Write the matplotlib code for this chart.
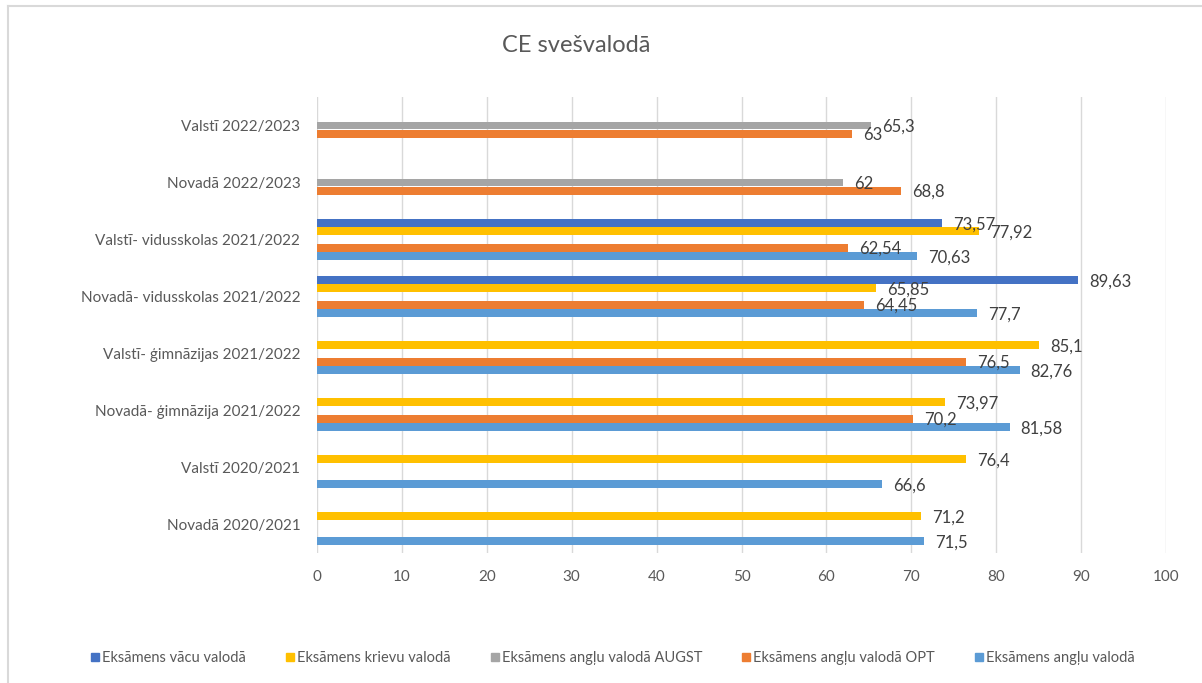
import numpy as np
import matplotlib
matplotlib.use("Agg")
import matplotlib.pyplot as plt
from matplotlib.lines import Line2D

plt.rcParams['font.family'] = ['Lato', 'DejaVu Sans']

categories = ["Novadā 2020/2021", "Valstī 2020/2021",
              "Novadā- ģimnāzija 2021/2022", "Valstī- ģimnāzijas 2021/2022",
              "Novadā- vidusskolas 2021/2022", "Valstī- vidusskolas 2021/2022",
              "Novadā 2022/2023", "Valstī 2022/2023"]

nan = np.nan
# series listed bottom-to-top inside each group
anglu = [71.5, 66.6, 81.58, 82.76, 77.7, 70.63, nan, nan]
anglu_opt = [nan, nan, 70.2, 76.5, 64.45, 62.54, 68.8, 63]
anglu_augst = [nan, nan, nan, nan, nan, nan, 62, 65.3]
krievu = [71.2, 76.4, 73.97, 85.1, 65.85, 77.92, nan, nan]
vacu = [nan, nan, nan, nan, 89.63, 73.57, nan, nan]

series = [
    ("Eksāmens angļu valodā", anglu, "#5B9BD5"),
    ("Eksāmens angļu valodā OPT", anglu_opt, "#ED7D31"),
    ("Eksāmens angļu valodā AUGST", anglu_augst, "#A5A5A5"),
    ("Eksāmens krievu valodā", krievu, "#FFC000"),
    ("Eksāmens vācu valodā", vacu, "#4472C4"),
]

fig = plt.figure(figsize=(12.02, 6.83), dpi=100)
ax = fig.add_axes([317 / 1202, 130 / 683, 849 / 1202, 456 / 683])

y = np.arange(len(categories))
slot = 0.144
for k, (name, vals, color) in enumerate(series):
    pos = y + (k - 2) * slot
    vals = np.array(vals, dtype=float)
    ax.barh(pos, vals, height=0.135, color=color, label=name, zorder=3)
    for p, v in zip(pos, vals):
        if np.isnan(v):
            continue
        txt = ("%g" % v).replace(".", ",")
        ax.annotate(txt, (v, p), xytext=(8, -1), textcoords="offset points",
                    va="center", ha="left", fontsize=12, color="#404040", zorder=4)

ax.set_xlim(0, 100)
ax.set_ylim(-0.5, 7.5)
ax.set_xticks(np.arange(0, 101, 10))
ax.set_yticks(y)
ax.set_yticklabels(categories)
ax.tick_params(length=0, labelsize=11, labelcolor="#595959")
ax.tick_params(axis="y", pad=12)
ax.tick_params(axis="x", pad=12)
ax.grid(axis="x", color="#D9D9D9", linewidth=1, zorder=0)
for s in ax.spines.values():
    s.set_visible(False)

fig.text(576 / 1202, 1 - 45 / 683, "CE svešvalodā", ha="center", va="center",
         fontsize=17, color="#595959")

# legend (reversed order, square markers)
handles = []
for name, vals, color in series[::-1]:
    handles.append(Line2D([], [], marker="s", linestyle="none", markersize=6,
                          markerfacecolor=color, markeredgecolor=color, label=name))
fig.legend(handles=handles, loc="center", bbox_to_anchor=(612 / 1202, 1 - 658 / 683),
           ncol=5, frameon=False, fontsize=10.5, labelcolor="#595959",
           handletextpad=0.1, columnspacing=2.6, handlelength=0.8)

# chart border (top and left only visible)
fig.add_artist(Line2D([8 / 1202, 1], [1 - 6 / 683, 1 - 6 / 683], color="#D9D9D9", linewidth=1.5))
fig.add_artist(Line2D([8 / 1202, 8 / 1202], [0, 1 - 6 / 683], color="#D9D9D9", linewidth=1.5))

fig.savefig("out.png", dpi=100)
